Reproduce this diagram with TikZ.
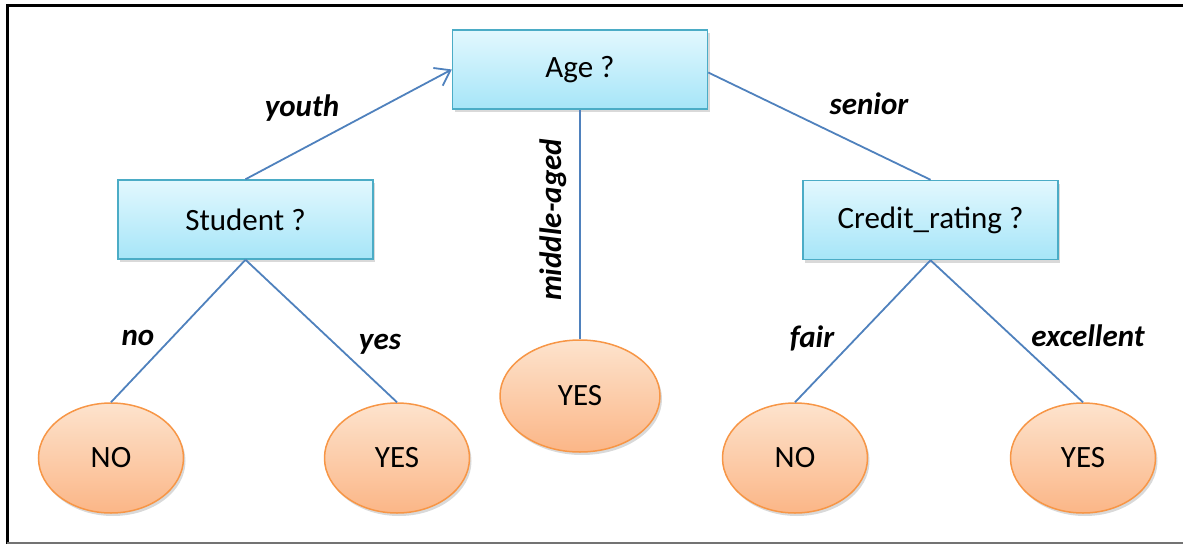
\documentclass[tikz,border=0pt]{standalone}
\usepackage{fontspec}
\setmainfont{Carlito}
\usetikzlibrary{shapes.geometric,shadows,arrows.meta}
\definecolor{boxtop}{HTML}{E2F8FE}
\definecolor{boxbot}{HTML}{A6E5F8}
\definecolor{boxline}{HTML}{4BACC6}
\definecolor{elltop}{HTML}{FDE3CD}
\definecolor{ellbot}{HTML}{FBB687}
\definecolor{ellline}{HTML}{F79646}
\definecolor{conn}{HTML}{4F81BD}
\tikzset{
  qbox/.style={rectangle, draw=boxline, line width=1.5pt, top color=boxtop, bottom color=boxbot,
    minimum width=255pt, minimum height=79pt, inner sep=0pt,
    font=\fontsize{31}{36}\selectfont,
    drop shadow={shadow xshift=2pt, shadow yshift=-3pt, opacity=0.3, fill=black!50}},
  leaf/.style={ellipse, draw=ellline, line width=1.5pt, top color=elltop, bottom color=ellbot,
    minimum width=145pt, minimum height=110pt, inner sep=0pt,
    font=\fontsize{31}{36}\selectfont,
    drop shadow={shadow xshift=2pt, shadow yshift=-3pt, opacity=0.3, fill=black!50}},
  conn/.style={draw=conn, line width=1.8pt},
  elab/.style={font=\fontsize{31}{36}\selectfont\bfseries\itshape, inner sep=0pt}
}
\begin{document}
\begin{tikzpicture}[x=1pt, y=-1pt]
\useasboundingbox (0,0) rectangle (1183,544);
% frame
\draw[line width=3pt, black] (1183,5.5) -- (7,5.5) -- (7,544);
\draw[line width=2pt, black!55] (7,542.5) -- (1183,542.5);
% nodes
\node[qbox] (age) at (580,69.5) {Age ?};
\node[qbox] (stu) at (245.5,219.5) {Student ?};
\node[qbox] (cr) at (930.5,220) {Credit\_rating ?};
\node[leaf] (no1) at (111,458) {NO};
\node[leaf] (yes1) at (397,458) {YES};
\node[leaf, minimum width=160pt, minimum height=112pt] (ymid) at (580,396) {YES};
\node[leaf] (no2) at (795,458) {NO};
\node[leaf] (yes2) at (1083,458) {YES};
% connectors
\draw[conn, -{Straight Barb[length=14pt, width=20pt, line width=1.8pt]}] (stu.north) -- (age.west);
\draw[conn] (age.south) -- (ymid.north);
\draw[conn] ([yshift=-3pt]age.east) -- (cr.north);
\draw[conn] (stu.south) -- (no1.north);
\draw[conn] (stu.south) -- (yes1.north);
\draw[conn] (cr.south) -- (no2.north);
\draw[conn] (cr.south) -- (yes2.north);
% labels
\node[elab] (lyouth) at (302,108) {youth};
\node[elab] (lsenior) at (869,104) {senior};
\node[elab, rotate=90] (lmid) at (553,220) {middle-aged};
\node[elab] (lno) at (138,338) {no};
\node[elab] (lyes) at (380,344) {yes};
\node[elab] (lfair) at (812,338) {fair};
\node[elab] (lexc) at (1088,336) {excellent};
\end{tikzpicture}
\end{document}
